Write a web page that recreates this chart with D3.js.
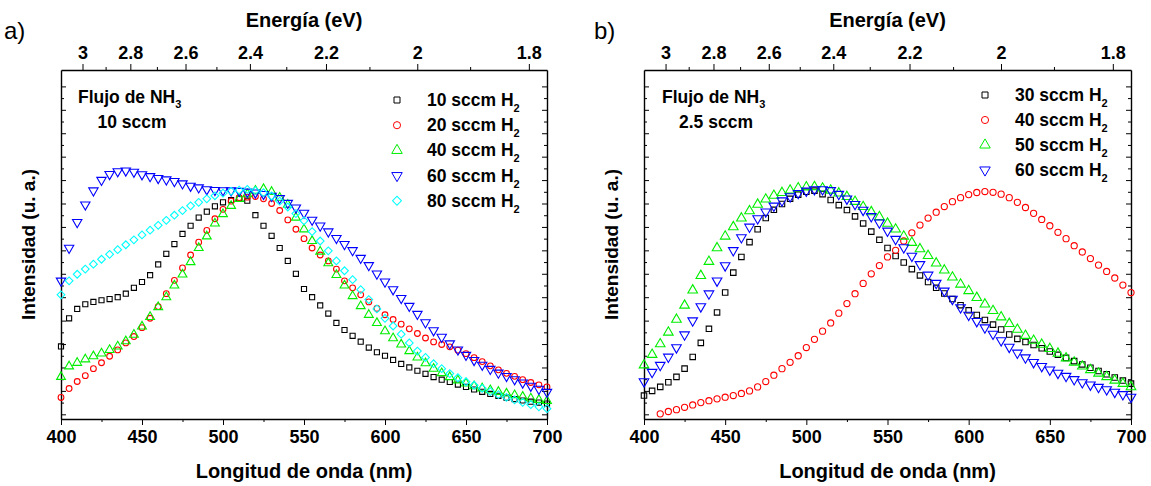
<!DOCTYPE html>
<html>
<head>
<meta charset="utf-8">
<script src="https://cdn.jsdelivr.net/npm/d3@7"></script>
<style>
  body { margin: 0; background: #fff; }
  svg text { font-family: "Liberation Sans", Arial, sans-serif; fill: #000; }
</style>
</head>
<body>
<svg id="chart" width="1151" height="486"></svg>
<script>
// wavelength grid (nm) shared by every series
const wavelength = [400, 405, 410, 415, 420, 425, 430, 435, 440, 445, 450, 455, 460, 465, 470, 475, 480, 485, 490, 495,
  500, 505, 510, 515, 520, 525, 530, 535, 540, 545, 550, 555, 560, 565, 570, 575, 580, 585, 590, 595,
  600, 605, 610, 615, 620, 625, 630, 635, 640, 645, 650, 655, 660, 665, 670, 675, 680, 685, 690, 695, 700];

// panel a) NH3 10 sccm
const a10 = [0.29, 0.41, 0.45, 0.47, 0.48, 0.487, 0.492, 0.5, 0.515, 0.54, 0.565, 0.594, 0.64, 0.685, 0.727, 0.77, 0.805, 0.84, 0.865, 0.888,
  0.905, 0.915, 0.92, 0.912, 0.85, 0.805, 0.762, 0.71, 0.655, 0.6, 0.535, 0.5, 0.465, 0.43, 0.39, 0.36, 0.335, 0.31, 0.285, 0.265,
  0.25, 0.232, 0.215, 0.2, 0.186, 0.173, 0.159, 0.148, 0.138, 0.127, 0.117, 0.106, 0.096, 0.087, 0.079, 0.071, 0.065, 0.059, 0.054, 0.05, 0.046];
const a20 = [0.072, 0.11, 0.14, 0.165, 0.195, 0.22, 0.248, 0.275, 0.305, 0.332, 0.37, 0.41, 0.46, 0.515, 0.572, 0.625, 0.68, 0.735, 0.785, 0.835,
  0.875, 0.91, 0.925, 0.927, 0.93, 0.92, 0.9, 0.87, 0.83, 0.79, 0.75, 0.71, 0.68, 0.655, 0.62, 0.57, 0.54, 0.51, 0.48, 0.452,
  0.425, 0.405, 0.385, 0.365, 0.345, 0.326, 0.309, 0.298, 0.288, 0.274, 0.259, 0.242, 0.225, 0.207, 0.19, 0.175, 0.162, 0.148, 0.136, 0.126, 0.117];
const a40 = [0.16, 0.205, 0.22, 0.235, 0.248, 0.26, 0.275, 0.29, 0.312, 0.34, 0.375, 0.416, 0.458, 0.5, 0.55, 0.597, 0.65, 0.71, 0.76, 0.815,
  0.855, 0.89, 0.92, 0.94, 0.955, 0.962, 0.95, 0.925, 0.895, 0.84, 0.79, 0.74, 0.695, 0.645, 0.595, 0.55, 0.505, 0.462, 0.425, 0.39,
  0.355, 0.325, 0.298, 0.27, 0.243, 0.218, 0.195, 0.176, 0.159, 0.145, 0.132, 0.12, 0.111, 0.103, 0.096, 0.089, 0.082, 0.075, 0.068, 0.062, 0.057];
const a60 = [0.57, 0.71, 0.82, 0.895, 0.955, 1.0, 1.025, 1.037, 1.04, 1.035, 1.024, 1.016, 1.008, 1.002, 0.995, 0.985, 0.975, 0.968, 0.96, 0.957,
  0.956, 0.955, 0.953, 0.95, 0.946, 0.94, 0.932, 0.922, 0.902, 0.882, 0.86, 0.83, 0.805, 0.78, 0.752, 0.726, 0.7, 0.667, 0.636, 0.6,
  0.566, 0.533, 0.496, 0.462, 0.428, 0.392, 0.358, 0.33, 0.302, 0.276, 0.253, 0.231, 0.211, 0.193, 0.177, 0.163, 0.149, 0.135, 0.121, 0.108, 0.095];
const a80 = [0.51, 0.57, 0.598, 0.62, 0.641, 0.662, 0.683, 0.703, 0.724, 0.745, 0.766, 0.786, 0.807, 0.828, 0.85, 0.87, 0.89, 0.905, 0.92, 0.933,
  0.944, 0.952, 0.957, 0.96, 0.955, 0.946, 0.932, 0.91, 0.885, 0.857, 0.826, 0.78, 0.74, 0.698, 0.655, 0.613, 0.575, 0.532, 0.49, 0.45,
  0.41, 0.377, 0.342, 0.305, 0.27, 0.243, 0.216, 0.195, 0.174, 0.156, 0.139, 0.124, 0.111, 0.097, 0.084, 0.072, 0.062, 0.051, 0.041, 0.032, 0.024];

// panel b) NH3 2.5 sccm
const b30 = [0.08, 0.1, 0.117, 0.137, 0.16, 0.195, 0.245, 0.305, 0.365, 0.435, 0.52, 0.605, 0.672, 0.735, 0.79, 0.838, 0.873, 0.898, 0.92, 0.938,
  0.95, 0.955, 0.94, 0.915, 0.893, 0.872, 0.845, 0.815, 0.78, 0.745, 0.71, 0.676, 0.648, 0.62, 0.593, 0.565, 0.54, 0.516, 0.492, 0.466,
  0.444, 0.424, 0.403, 0.383, 0.362, 0.341, 0.322, 0.309, 0.296, 0.282, 0.268, 0.254, 0.241, 0.227, 0.213, 0.199, 0.185, 0.171, 0.157, 0.144, 0.131];
const b40 = [null, null, 0.002, 0.012, 0.02, 0.03, 0.04, 0.05, 0.058, 0.066, 0.073, 0.08, 0.089, 0.1, 0.117, 0.14, 0.167, 0.195, 0.222, 0.25,
  0.285, 0.32, 0.355, 0.39, 0.432, 0.473, 0.515, 0.559, 0.6, 0.635, 0.672, 0.7, 0.74, 0.775, 0.808, 0.838, 0.863, 0.887, 0.908, 0.925,
  0.938, 0.947, 0.951, 0.948, 0.94, 0.925, 0.905, 0.883, 0.858, 0.832, 0.805, 0.777, 0.75, 0.72, 0.693, 0.665, 0.637, 0.61, 0.582, 0.552, 0.52];
const b50 = [0.21, 0.255, 0.3, 0.35, 0.405, 0.465, 0.53, 0.592, 0.652, 0.71, 0.76, 0.8, 0.837, 0.868, 0.896, 0.918, 0.934, 0.946, 0.956, 0.966,
  0.97, 0.971, 0.965, 0.956, 0.944, 0.929, 0.908, 0.886, 0.864, 0.843, 0.815, 0.79, 0.76, 0.733, 0.706, 0.677, 0.645, 0.615, 0.585, 0.555,
  0.527, 0.498, 0.47, 0.442, 0.415, 0.387, 0.362, 0.336, 0.315, 0.298, 0.28, 0.26, 0.24, 0.222, 0.205, 0.19, 0.175, 0.16, 0.145, 0.131, 0.117];
const b60 = [0.14, 0.18, 0.21, 0.245, 0.285, 0.34, 0.4, 0.46, 0.515, 0.57, 0.635, 0.7, 0.755, 0.8, 0.836, 0.865, 0.89, 0.912, 0.93, 0.944,
  0.954, 0.96, 0.96, 0.956, 0.94, 0.92, 0.897, 0.872, 0.845, 0.818, 0.783, 0.748, 0.712, 0.676, 0.64, 0.595, 0.56, 0.527, 0.492, 0.456,
  0.424, 0.397, 0.37, 0.343, 0.315, 0.287, 0.262, 0.242, 0.222, 0.205, 0.19, 0.176, 0.163, 0.149, 0.136, 0.126, 0.116, 0.106, 0.095, 0.085, 0.074];

const legendA = ["10", "20", "40", "60", "80"];
const legendB = ["30", "40", "50", "60"];

const waveTicks = [400, 450, 500, 550, 600, 650, 700];
const waveMinor = [425, 475, 525, 575, 625, 675];
const energyTicks = [3, 2.8, 2.6, 2.4, 2.2, 2, 1.8];
const energyMinor = [2.9, 2.7, 2.5, 2.3, 2.1, 1.9];
const hc = 1239.84; // eV*nm

const svg = d3.select("#chart");

const symbolPath = (kind, size) => {
  const type = kind === "circle" ? d3.symbolCircle : (kind === "square" || kind === "diamond") ? d3.symbolSquare : d3.symbolTriangle;
  return d3.symbol(type, size)();
};
const symbolRotate = (kind) => (kind === "diamond" ? 45 : kind === "down" ? 180 : 0);

const drawPanel = (config) => {
  const { left, right, top, bottom, letter, letterX, nh3, noteX, legendX, legendY, legendStep, series } = config;

  const xScale = d3.scaleLinear().domain([400, 700]).range([left, right]);
  const yScale = d3.scaleLinear().domain([-0.02, 1.47]).range([bottom, top]);
  const g = svg.append("g").attr("class", "panel");

  // bottom axis
  g.append("g").attr("transform", `translate(0,${bottom})`)
    .call(d3.axisBottom(xScale).tickValues(waveTicks).tickSizeInner(6).tickSizeOuter(0).tickPadding(5));
  g.append("g").attr("transform", `translate(0,${bottom})`)
    .call(d3.axisBottom(xScale).tickValues(waveMinor).tickSize(3).tickFormat(""))
    .call((s) => s.select(".domain").remove());

  // top axis in energy
  g.append("g").attr("transform", `translate(0,${top})`)
    .call(d3.axisTop(xScale).tickValues(energyTicks.map((e) => hc / e)).tickFormat((d, i) => energyTicks[i])
      .tickSizeInner(6).tickSizeOuter(0).tickPadding(5));
  g.append("g").attr("transform", `translate(0,${top})`)
    .call(d3.axisTop(xScale).tickValues(energyMinor.map((e) => hc / e)).tickSize(3).tickFormat(""))
    .call((s) => s.select(".domain").remove());

  // y axes, ticks pointing inward, no labels
  const yMajor = d3.range(0, 1.45, 0.1);
  const yMinor = d3.range(0.05, 1.45, 0.1);
  [[d3.axisLeft, left], [d3.axisRight, right]].forEach(([axisFn, xPos]) => {
    g.append("g").attr("transform", `translate(${xPos},0)`)
      .call(axisFn(yScale).tickValues(yMajor).tickSizeInner(-5).tickSizeOuter(0).tickFormat(""));
    g.append("g").attr("transform", `translate(${xPos},0)`)
      .call(axisFn(yScale).tickValues(yMinor).tickSize(-3).tickFormat(""))
      .call((s) => s.select(".domain").remove());
  });

  g.selectAll(".domain").attr("stroke", "#000").attr("stroke-width", 1.4);
  g.selectAll(".tick line").attr("stroke", "#000").attr("stroke-width", 1);
  g.selectAll(".tick text").attr("font-size", 18).attr("font-weight", "bold")
    .attr("font-family", "'Liberation Sans', Arial, sans-serif").attr("fill", "#000");

  // data markers
  series.forEach((s) => {
    const pts = wavelength.map((w, i) => ({ w, v: s.values[i] })).filter((d) => d.v != null);
    g.append("g").attr("class", "series")
      .selectAll("path")
      .data(pts)
      .join("path")
      .attr("d", symbolPath(s.shape, s.size))
      .attr("transform", (d) => `translate(${xScale(d.w)},${yScale(d.v)}) rotate(${symbolRotate(s.shape)})`)
      .attr("fill", "none")
      .attr("stroke", s.color)
      .attr("stroke-width", 1.1);
  });

  // titles
  const midX = (left + right) / 2;
  g.append("text").attr("x", midX).attr("y", 27).attr("text-anchor", "middle")
    .attr("font-size", 20).attr("font-weight", "bold").text("Energía (eV)");
  g.append("text").attr("x", midX).attr("y", 478).attr("text-anchor", "middle")
    .attr("font-size", 20).attr("font-weight", "bold").text("Longitud de onda (nm)");
  g.append("text").attr("transform", `translate(${left - 26},${(top + bottom) / 2}) rotate(-90)`)
    .attr("text-anchor", "middle").attr("font-size", 19).attr("font-weight", "bold").text("Intensidad (u. a.)");
  g.append("text").attr("x", letterX).attr("y", 39).attr("font-size", 24).text(letter);

  // annotation
  const note = g.append("text").attr("x", noteX).attr("y", 103).attr("font-size", 17.5).attr("font-weight", "bold");
  note.append("tspan").text("Flujo de NH");
  note.append("tspan").attr("font-size", 11).attr("dy", 5).text("3");
  g.append("text").attr("x", noteX + 54).attr("y", 128).attr("text-anchor", "middle")
    .attr("font-size", 17.5).attr("font-weight", "bold").text(nh3);

  // legend
  series.forEach((s, i) => {
    const cy = legendY + i * legendStep;
    g.append("path").attr("d", symbolPath(s.shape, s.legendSize))
      .attr("transform", `translate(${legendX},${cy}) rotate(${symbolRotate(s.shape)})`)
      .attr("fill", "none").attr("stroke", s.color).attr("stroke-width", 1);
    const t = g.append("text").attr("x", legendX + 30).attr("y", cy + 6).attr("font-size", 17.5).attr("font-weight", "bold");
    t.append("tspan").text(`${s.label} sccm H`);
    t.append("tspan").attr("font-size", 11).attr("dy", 6).text("2");
  });
};

drawPanel({
  left: 61, right: 547, top: 70, bottom: 419,
  letter: "a)", letterX: 4, nh3: "10 sccm", noteX: 78,
  legendX: 397, legendY: 100, legendStep: 25.2,
  series: [
    { label: legendA[0], values: a10, color: "#000000", shape: "square", size: 26, legendSize: 36 },
    { label: legendA[1], values: a20, color: "#ff0000", shape: "circle", size: 26, legendSize: 40 },
    { label: legendA[2], values: a40, color: "#00ee00", shape: "triangle", size: 34, legendSize: 48 },
    { label: legendA[3], values: a60, color: "#0000ff", shape: "down", size: 38, legendSize: 48 },
    { label: legendA[4], values: a80, color: "#00ffff", shape: "diamond", size: 30, legendSize: 40 },
  ],
});

drawPanel({
  left: 644, right: 1131, top: 70, bottom: 419,
  letter: "b)", letterX: 594, nh3: "2.5 sccm", noteX: 662,
  legendX: 985, legendY: 95, legendStep: 25,
  series: [
    { label: legendB[0], values: b30, color: "#000000", shape: "square", size: 30, legendSize: 36 },
    { label: legendB[1], values: b40, color: "#ff0000", shape: "circle", size: 30, legendSize: 40 },
    { label: legendB[2], values: b50, color: "#00ee00", shape: "triangle", size: 40, legendSize: 48 },
    { label: legendB[3], values: b60, color: "#0000ff", shape: "down", size: 40, legendSize: 48 },
  ],
});
</script>
</body>
</html>
